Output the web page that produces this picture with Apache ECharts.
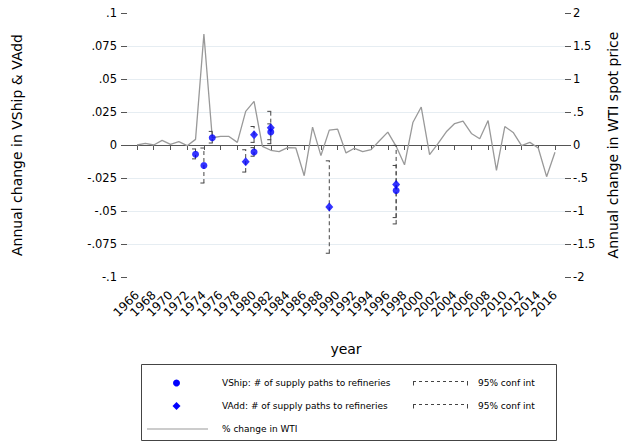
<!DOCTYPE html>
<html><head><meta charset="utf-8">
<script src="https://cdn.jsdelivr.net/npm/echarts@6/dist/echarts.min.js"></script>
<style>html,body{margin:0;padding:0;background:#fff}#c{width:629px;height:442px}</style>
</head><body><div id="c"></div>
<script>
// ---- data ----
const years = [];
for (let y = 1966; y <= 2016; y++) years.push(y);
const wti = [0.00,0.025,0.00,0.07,0.01,0.05,-0.01,0.085,1.68,0.11,
             0.13,0.13,0.04,0.51,0.66,-0.02,-0.08,-0.10,-0.04,-0.045,
             -0.465,0.27,-0.16,0.225,0.24,-0.12,-0.05,-0.10,-0.07,0.065,
             0.195,-0.02,-0.30,0.34,0.575,-0.145,0.02,0.20,0.325,0.36,
             0.175,0.095,0.37,-0.385,0.28,0.19,-0.01,0.04,-0.045,-0.48,-0.11];
const vshipYears = [1973,1974,1975,1980,1982,1997];
const vshipVals  = [-0.007,-0.0155,0.0055,-0.0053,0.0098,-0.0345];
const vshipLo    = [-0.0105,-0.0288,0.0015,-0.0085,0.004,-0.055];
const vshipHi    = [-0.003,-0.0023,0.0103,-0.002,0.016,-0.0155];
const vaddYears  = [1979,1980,1982,1989,1997];
const vaddVals   = [-0.0126,0.0077,0.013,-0.047,-0.030];
const vaddLo     = [-0.0205,0.002,0.001,-0.082,-0.0598];
const vaddHi     = [-0.0036,0.014,0.0255,-0.012,-0.0003];
const xTickLabels = [];
for (let y = 1966; y <= 2016; y += 2) xTickLabels.push(y);
const leftTitle = 'Annual change in VShip & VAdd';
const rightTitle = 'Annual change in WTI spot price';
const xTitle = 'year';
const legendLabels = ['VShip: # of supply paths to refineries','VAdd: # of supply paths to refineries','% change in WTI','95% conf int'];

// ---- chart ----
const FONT = 'DejaVu Sans';
const fmt = v => { let r = Math.round(v*1000)/1000; let s = String(r); if (s.startsWith('0.')) s = s.slice(1); if (s.startsWith('-0.')) s = '-' + s.slice(2); return s; };
const AX = '#555';
const GRIDC = '#e6edf2';
const chart = echarts.init(document.getElementById('c'), null, {renderer:'svg'});

function ciRender(params, api){
  const x = api.value(0), lo = api.value(1), hi = api.value(2);
  const p1 = api.coord([x, lo]), p2 = api.coord([x, hi]);
  const style = {stroke:'#444', lineWidth:1, lineDash:[4,3], fill:null};
  return {type:'group', children:[
    {type:'line', shape:{x1:p1[0],y1:p1[1],x2:p2[0],y2:p2[1]}, style:style},
    {type:'line', shape:{x1:p1[0]-3.5,y1:p1[1],x2:p1[0]+3.5,y2:p1[1]}, style:style},
    {type:'line', shape:{x1:p2[0]-3.5,y1:p2[1],x2:p2[0]+3.5,y2:p2[1]}, style:style}
  ]};
}

const txt = (t, x, y, size, align) => ({type:'text', silent:true, style:{text:t, x:x, y:y, fill:'#000', font: size+'px "'+FONT+'"', align:align||'left', verticalAlign:'middle'}});
const L = {x:141.5, y:364.5, w:415, h:76};
const rows = [383, 406, 429];
const graphics = [
  {type:'rect', shape:{x:L.x, y:L.y, width:L.w, height:L.h}, style:{fill:'#fff', stroke:'#444', lineWidth:1}},
  {type:'circle', shape:{cx:176.5, cy:rows[0], r:3.5}, style:{fill:'#0000ff'}},
  {type:'polygon', shape:{points:[[176.5,rows[1]-4],[180.5,rows[1]],[176.5,rows[1]+4],[172.5,rows[1]]]}, style:{fill:'#0000ff'}},
  {type:'line', shape:{x1:147, y1:rows[2], x2:208, y2:rows[2]}, style:{stroke:'#999', lineWidth:1.2}},
  txt(legendLabels[0], 222, rows[0], 9),
  txt(legendLabels[1], 222, rows[1], 9),
  txt(legendLabels[2], 222, rows[2], 9),
  txt(legendLabels[3], 478, rows[0], 9),
  txt(legendLabels[3], 478, rows[1], 9)
];
[rows[0], rows[1]].forEach(ry => {
  const yy = ry - 1.5;
  const st = {stroke:'#444', lineWidth:1, lineDash:[3,3]};
  graphics.push({type:'line', shape:{x1:413, y1:yy, x2:468, y2:yy}, style:st});
  graphics.push({type:'line', shape:{x1:413.5, y1:yy, x2:413.5, y2:yy+4}, style:{stroke:'#444', lineWidth:1}});
  graphics.push({type:'line', shape:{x1:467.5, y1:yy, x2:467.5, y2:yy+4}, style:{stroke:'#444', lineWidth:1}});
});

const option = {
  animation:false,
  backgroundColor:'#fff',
  textStyle:{fontFamily:FONT},
  grid:{left:127, right:64, top:13, bottom:165, containLabel:false},
  xAxis:{
    type:'value', min:1964.8, max:2017.2, offset:10,
    name:xTitle, nameLocation:'middle', nameGap:55,
    nameTextStyle:{fontSize:14, color:'#000', fontFamily:FONT},
    axisLine:{show:true, lineStyle:{color:AX, width:1}},
    axisTick:{show:true, length:5, customValues:xTickLabels, lineStyle:{color:AX}},
    axisLabel:{show:true, rotate:45, fontSize:12, color:'#000', margin:6, customValues:xTickLabels, fontFamily:FONT, formatter: v => String(Math.round(v))},
    splitLine:{show:false}
  },
  yAxis:[{
    type:'value', position:'left', min:-0.1, max:0.1, interval:0.025,
    name:leftTitle, nameLocation:'middle', nameGap:103, nameRotate:90,
    nameTextStyle:{fontSize:14, color:'#000', fontFamily:FONT},
    axisLine:{show:false},
    axisTick:{show:true, length:6, lineStyle:{color:AX}},
    axisLabel:{fontSize:11.5, color:'#000', margin:10, formatter:fmt, fontFamily:FONT},
    splitLine:{show:true, lineStyle:{color:['rgba(0,0,0,0)',GRIDC,GRIDC,GRIDC,GRIDC,GRIDC,GRIDC,GRIDC,'rgba(0,0,0,0)'], width:1}}
  },{
    type:'value', position:'right', min:-2, max:2, interval:0.5,
    name:rightTitle, nameLocation:'middle', nameGap:40, nameRotate:90,
    nameTextStyle:{fontSize:14, color:'#000', fontFamily:FONT},
    axisLine:{show:false},
    axisTick:{show:true, length:6, lineStyle:{color:AX}},
    axisLabel:{fontSize:11.5, color:'#000', margin:8, formatter:fmt, fontFamily:FONT},
    splitLine:{show:false}
  }],
  graphic:graphics,
  series:[
    {type:'line', yAxisIndex:1, data:years.map((y,i)=>[y,wti[i]]), showSymbol:false, symbol:'none',
     lineStyle:{color:'#999', width:1.3}, z:1, silent:true},
    {type:'custom', yAxisIndex:0, renderItem:ciRender, encode:{x:0, y:[1,2]},
     data:vaddYears.map((y,i)=>[y,vaddLo[i],vaddHi[i]]), z:2, silent:true},
    {type:'custom', yAxisIndex:0, renderItem:ciRender, encode:{x:0, y:[1,2]},
     data:vshipYears.map((y,i)=>[y,vshipLo[i],vshipHi[i]]), z:2, silent:true},
    {type:'scatter', yAxisIndex:0, symbol:'diamond', symbolSize:[8,9], itemStyle:{color:'#0000ff'},
     data:vaddYears.map((y,i)=>[y,vaddVals[i]]), z:3, silent:true},
    {type:'scatter', yAxisIndex:0, symbol:'circle', symbolSize:7, itemStyle:{color:'#0000ff'},
     data:vshipYears.map((y,i)=>[y,vshipVals[i]]), z:4, silent:true}
  ]
};
chart.setOption(option);
</script></body></html>
